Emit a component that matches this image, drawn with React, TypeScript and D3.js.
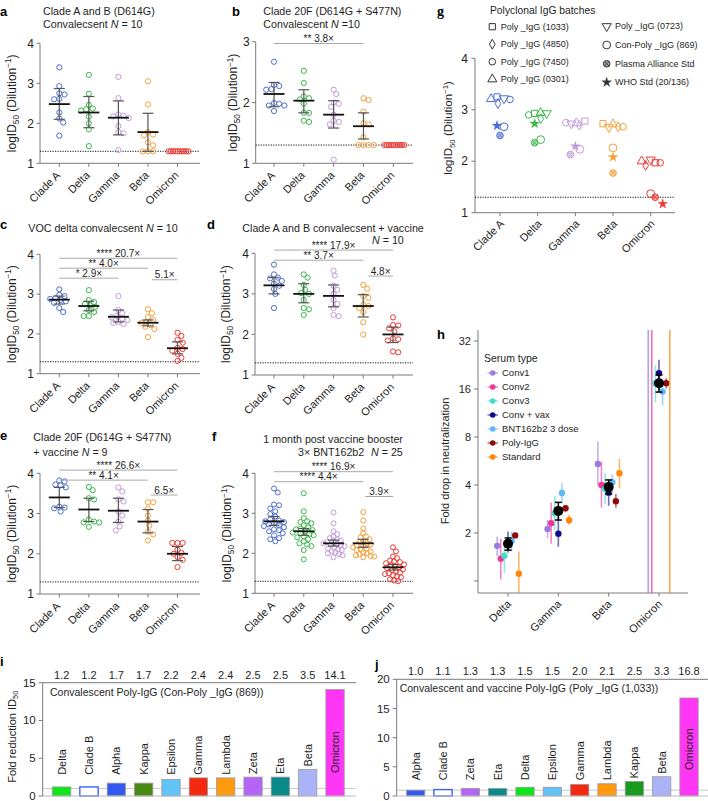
import React from 'react';
import * as d3 from 'd3';

const FONT = "'Liberation Sans', Arial, Helvetica, sans-serif";
const INK = '#1e1e1e';
const AXIS = '#7a7a7a';

// ---------- shared categories ----------
const VARIANTS = ['Clade A', 'Delta', 'Gamma', 'Beta', 'Omicron'];
const VARIANT_COLORS = ['#4d6ed0', '#3cb84b', '#c49bd9', '#f6a03a', '#ee3b33'];
const TICKS_1_4 = [1, 2, 3, 4];
const TICKS_1_3 = [1, 2, 3];
const LOD = 1.3;

// ---------- panel a ----------
const A_POINTS = [
  [3.40, 2.93, 2.75, 2.72, 2.61, 2.60, 2.27, 2.12, 2.02, 1.69],
  [3.21, 2.74, 2.46, 2.37, 2.35, 2.32, 2.17, 2.00, 1.85, 1.43],
  [3.16, 2.63, 2.22, 2.19, 2.17, 2.13, 1.93, 1.78, 1.75, 1.33],
  [3.05, 2.47, 1.78, 1.72, 1.70, 1.52, 1.45, 1.30, 1.30, 1.30],
  [1.3, 1.3, 1.3, 1.3, 1.3, 1.3, 1.3, 1.3, 1.3, 1.3],
];
const A_MEAN = [2.48, 2.27, 2.14, 1.78, null];
const A_LO = [2.10, 1.89, 1.71, 1.30, null];
const A_HI = [2.87, 2.67, 2.56, 2.25, null];

// ---------- panel b ----------
const B_POINTS = [
  [2.67, 2.29, 2.27, 2.22, 2.21, 1.99, 1.98, 1.95, 1.95, 1.86],
  [2.52, 2.32, 2.10, 2.07, 2.05, 1.98, 1.83, 1.83, 1.70, 1.68],
  [2.21, 2.14, 2.00, 1.98, 1.93, 1.80, 1.70, 1.68, 1.64, 1.06],
  [2.07, 2.04, 1.85, 1.66, 1.64, 1.43, 1.30, 1.30, 1.30, 1.30],
  [1.3, 1.3, 1.3, 1.3, 1.3, 1.3, 1.3, 1.3, 1.3, 1.3],
];
const B_MEAN = [2.14, 2.03, 1.80, 1.61, null];
const B_LO = [1.93, 1.83, 1.58, 1.40, null];
const B_HI = [2.33, 2.21, 2.03, 1.83, null];
const B_SIG_TEXT = ['** 3.8\u00d7'];

// ---------- panel c ----------
const C_POINTS = [
  [3.12, 2.98, 2.95, 2.90, 2.88, 2.85, 2.82, 2.78, 2.65, 2.55],
  [3.10, 2.85, 2.80, 2.75, 2.72, 2.68, 2.60, 2.55, 2.45, 2.45],
  [2.95, 2.60, 2.52, 2.45, 2.42, 2.38, 2.35, 2.30, 2.28, 2.25],
  [2.62, 2.52, 2.42, 2.35, 2.30, 2.28, 2.22, 2.18, 2.12, 1.92],
  [2.03, 1.95, 1.85, 1.78, 1.65, 1.62, 1.58, 1.50, 1.40, 1.32],
];
const C_MEAN = [2.86, 2.70, 2.43, 2.28, 1.64];
const C_LO = [2.75, 2.58, 2.30, 2.20, 1.50];
const C_HI = [2.95, 2.82, 2.60, 2.35, 1.80];
const C_SIG_TEXT = ['**** 20.7\u00d7', '** 4.0\u00d7', '* 2.9\u00d7', '5.1\u00d7'];

// ---------- panel d ----------
const D_POINTS = [
  [3.72, 3.48, 3.40, 3.38, 3.32, 3.25, 3.20, 3.12, 3.00, 2.65],
  [3.48, 3.40, 3.22, 3.10, 3.02, 3.00, 2.85, 2.65, 2.62, 2.48],
  [3.57, 3.45, 3.20, 3.10, 3.00, 2.85, 2.75, 2.65, 2.48, 2.45],
  [3.22, 3.13, 2.95, 2.90, 2.73, 2.70, 2.65, 2.55, 2.30, 2.00],
  [2.42, 2.23, 2.22, 2.15, 2.08, 1.90, 1.88, 1.85, 1.58, 1.56],
];
const D_MEAN = [3.21, 3.00, 2.95, 2.70, 2.00];
const D_LO = [3.00, 2.78, 2.68, 2.43, 1.80];
const D_HI = [3.40, 3.25, 3.22, 2.98, 2.18];
const D_SIG_TEXT = ['**** 17.9\u00d7', '** 3.7\u00d7', '4.8\u00d7'];

// ---------- panel e ----------
const E_POINTS = [
  [3.82, 3.80, 3.72, 3.70, 3.65, 3.17, 3.15, 3.13, 3.05],
  [3.66, 3.58, 3.38, 3.35, 2.85, 2.80, 2.78, 2.78, 2.67],
  [3.65, 3.55, 3.35, 3.30, 3.05, 2.95, 2.80, 2.68, 2.58],
  [3.28, 3.28, 3.12, 2.95, 2.82, 2.70, 2.55, 2.48, 2.33],
  [2.27, 2.27, 2.27, 2.10, 2.02, 2.00, 1.92, 1.85, 1.67],
];
const E_MEAN = [3.40, 3.10, 3.07, 2.80, 2.00];
const E_LO = [3.15, 2.80, 2.78, 2.52, 1.83];
const E_HI = [3.65, 3.38, 3.38, 3.10, 2.18];
const E_SIG_TEXT = ['**** 26.6\u00d7', '** 4.1\u00d7', '6.5\u00d7'];

// ---------- panel f ----------
const F_POINTS = [
  [3.62, 3.52, 3.22, 3.20, 3.12, 3.05, 2.98, 2.92, 2.85, 2.82, 2.80, 2.78, 2.75, 2.72, 2.70, 2.68, 2.65, 2.60, 2.58, 2.55, 2.50, 2.45, 2.38, 2.35, 2.30],
  [3.50, 3.05, 2.88, 2.80, 2.78, 2.75, 2.70, 2.65, 2.62, 2.60, 2.58, 2.55, 2.52, 2.50, 2.48, 2.45, 2.42, 2.40, 2.35, 2.30, 2.25, 2.22, 2.18, 2.08, 1.85],
  [3.02, 2.75, 2.55, 2.48, 2.42, 2.38, 2.35, 2.32, 2.30, 2.28, 2.25, 2.23, 2.22, 2.20, 2.18, 2.15, 2.12, 2.10, 2.08, 2.05, 2.02, 2.00, 1.98, 1.95, 1.90],
  [3.03, 2.82, 2.62, 2.50, 2.42, 2.40, 2.35, 2.30, 2.28, 2.25, 2.22, 2.20, 2.18, 2.15, 2.12, 2.10, 2.08, 2.05, 2.02, 2.00, 1.98, 1.95, 1.93, 1.92, 1.90],
  [2.15, 2.05, 1.92, 1.88, 1.82, 1.80, 1.78, 1.75, 1.72, 1.70, 1.68, 1.65, 1.63, 1.60, 1.58, 1.55, 1.52, 1.50, 1.48, 1.45, 1.42, 1.40, 1.35, 1.32, 1.30],
];
const F_MEAN = [2.80, 2.55, 2.25, 2.25, 1.65];
const F_LO = [2.70, 2.45, 2.18, 2.15, 1.58];
const F_HI = [2.92, 2.62, 2.33, 2.35, 1.72];
const F_SIG_TEXT = ['**** 16.9\u00d7', '**** 4.4\u00d7', '3.9\u00d7'];

// ---------- panel g ----------
const G_BATCHES = ['Poly _IgG (1033)', 'Poly _IgG (4850)', 'Poly _IgG (7450)', 'Poly _IgG (0301)', 'Poly _IgG (0723)', 'Con-Poly _IgG (869)', 'Plasma Alliance Std', 'WHO Std (20/136)'];
const G_SYMBOLS = ['square', 'diamond', 'circle', 'triangle', 'triangleDown', 'bigCircle', 'plasma', 'star'];
const G_1033 = [3.25, 2.93, 2.78, 2.73, 1.97];
const G_4850 = [3.12, 2.83, 2.70, 2.67, 1.92];
const G_7450 = [3.20, 2.90, 2.75, 2.67, 1.97];
const G_0301 = [3.21, 2.94, 2.74, 2.72, 2.00];
const G_0723 = [3.22, 2.93, 2.73, 2.66, 2.03];
const G_869 = [2.67, 2.42, 2.23, 2.26, 1.37];
const G_PLASMA = [2.50, 2.36, 2.13, 1.77, 1.30];
const G_WHO = [2.69, 2.73, 2.29, 2.08, 1.17];
const G_VALUES = [G_1033, G_4850, G_7450, G_0301, G_0723, G_869, G_PLASMA, G_WHO];
// horizontal dodge of each marker (px), layout only
const G_DODGE = [
  [-3, -3, 9.5, -10, 4.5],
  [-2, 3, 4, 5, -5],
  [10, -9, -9.5, 10, 9.5],
  [-9, 3, 1, 0, -9],
  [4, 9, -4, -4, 0],
  [4, 3, 4.5, 0, 0],
  [0, -3, -5, 0, 4.5],
  [-3, -3, 0, 0, 12],
];

// ---------- panel h ----------
const H_VARIANTS = ['Delta', 'Gamma', 'Beta', 'Omicron'];
const H_SERUM = ['Conv1', 'Conv2', 'Conv3', 'Conv + vax', 'BNT162b2 3 dose', 'Poly-IgG', 'Standard'];
const H_COLORS = ['#9b7be0', '#f2349c', '#45dcc6', '#0a0a8a', '#5db8f8', '#8e0c0c', '#ff8408'];
const H_VALUE = [
  [1.66, 2.12, 5.42, null],
  [1.38, 2.30, 4.00, null],
  [1.44, 2.66, 3.78, 17.4],
  [1.75, 1.98, 3.58, 20.1],
  [1.78, 3.56, 4.16, 15.4],
  [1.93, 2.86, 3.16, 17.4],
  [1.11, 2.40, 4.74, null],
];
const H_LO = [
  [1.43, 1.86, 3.96, null],
  [1.02, 1.71, 2.88, null],
  [1.12, 2.07, 3.04, 13.2],
  [1.50, 1.64, 2.96, 15.8],
  [1.53, 3.08, 3.56, 12.6],
  [1.86, 2.70, 2.88, 16.1],
  [0.84, 2.25, 3.81, null],
];
const H_HI = [
  [1.90, 2.41, 7.50, null],
  [1.84, 3.10, 5.60, null],
  [1.63, 3.41, 4.73, 22.6],
  [2.04, 2.51, 4.20, 24.4],
  [2.04, 4.10, 4.67, 18.7],
  [2.00, 3.00, 3.51, 18.7],
  [1.53, 2.60, 5.83, null],
];
const H_MEAN = [1.71, 2.75, 3.89, 17.4];
const H_MEAN_LO = [1.56, 2.41, 3.51, 15.3];
const H_MEAN_HI = [1.86, 3.11, 4.30, 19.6];
const H_TICKS = [1, 2, 4, 8, 16, 32];

// ---------- panels i, j ----------
const I_CATS = ['Delta', 'Clade B', 'Alpha', 'Kappa', 'Epsilon', 'Gamma', 'Lambda', 'Zeta', 'Eta', 'Beta', 'Omicron'];
const I_VALUES = [1.2, 1.2, 1.7, 1.7, 2.2, 2.4, 2.4, 2.5, 2.5, 3.5, 14.1];
const J_CATS = ['Alpha', 'Clade B', 'Zeta', 'Eta', 'Delta', 'Epsilon', 'Gamma', 'Lambda', 'Kappa', 'Beta', 'Omicron'];
const J_VALUES = [1.0, 1.1, 1.3, 1.3, 1.5, 1.5, 2.0, 2.1, 2.5, 3.3, 16.8];
const BAR_COLORS: Record<string, string> = {
  Delta: '#0ee619', 'Clade B': '#ffffff', Alpha: '#3359f0', Kappa: '#4a8a14', Epsilon: '#62c3f8',
  Gamma: '#f42a10', Lambda: '#ff990f', Zeta: '#b565f5', Eta: '#0b8a8a', Beta: '#aab3f8', Omicron: '#ff36f5',
};
const J_KAPPA_COLOR = '#179a1e';
const I_TICKS = [0, 5, 10, 15];
const J_TICKS = [0, 5, 10, 15, 20];

// ---------- helpers ----------
function swarm(vals: number[], yPos: (v: number) => number, r: number, maxW: number): number[] {
  const n = vals.length;
  const order = d3.range(n).sort((a, b) => vals[b] - vals[a]);
  const off = new Array(n).fill(0);
  const placed: { x: number; y: number }[] = [];
  const step = r * 0.5;
  const minD = 2 * r * 0.95;
  for (const i of order) {
    const yi = yPos(vals[i]);
    let chosen = 0;
    for (let k = 0; k < 400; k++) {
      const cand = k === 0 ? 0 : (k % 2 === 1 ? 1 : -1) * Math.ceil(k / 2) * step;
      if (placed.every((p) => Math.hypot(p.x - cand, p.y - yi) >= minD)) {
        chosen = cand;
        break;
      }
    }
    off[i] = chosen;
    placed.push({ x: chosen, y: yi });
  }
  const m = d3.max(off, (o) => Math.abs(o)) || 0;
  return m > maxW ? off.map((o) => (o * maxW) / m) : off;
}

function LogIdLabel({ x, y, size = 12 }: { x: number; y: number; size?: number }) {
  const s = size * 0.68;
  return (
    <text transform={`translate(${x},${y}) rotate(-90)`} textAnchor="middle" dy="0.35em" fontSize={size} fill={INK}>
      logID<tspan fontSize={s} dy={size * 0.25}>50</tspan>
      <tspan dy={-size * 0.25}> (Dilution</tspan>
      <tspan fontSize={s} dy={-size * 0.38}>{'\u22121'}</tspan>
      <tspan dy={size * 0.38}>)</tspan>
    </text>
  );
}

type Sig = { from: string; to: string; level: number; text: string; inset?: number };
type TitleLine = { x: number; y: number; parts: [string, boolean][] };

interface ScatterCfg {
  letter: string; letterX: number; letterY: number;
  points: number[][]; mean: (number | null)[]; lo: (number | null)[]; hi: (number | null)[];
  sig: Sig[]; axisX: number; xFirst: number; xLast: number; xEnd: number;
  yTop: number; yBot: number; yMax: number; ticks: number[];
  title: TitleLine[]; ylabX: number; r: number;
}

function ScatterPanel({ c }: { c: ScatterCfg }) {
  const y = d3.scaleLinear().domain([1, c.yMax]).range([c.yBot, c.yTop]);
  const x = d3.scalePoint<string>().domain(VARIANTS).range([c.xFirst, c.xLast]);
  const yMid = (c.yTop + c.yBot) / 2;
  return (
    <g>
      <text x={c.letterX} y={c.letterY} fontSize={13} fontWeight="bold" fill="#000">{c.letter}</text>
      {c.title.map((t, i) => (
        <text key={i} x={t.x} y={t.y} fontSize={10.7} fill={INK}>
          {t.parts.map(([s, it], j) => (
            <tspan key={j} fontStyle={it ? 'italic' : 'normal'}>{s}</tspan>
          ))}
        </text>
      ))}
      <LogIdLabel x={c.ylabX} y={yMid} />
      <line x1={c.axisX} x2={c.axisX} y1={c.yTop} y2={c.yBot} stroke={AXIS} />
      {c.ticks.map((t) => (
        <g key={t}>
          <line x1={c.axisX - 3.5} x2={c.axisX} y1={y(t)} y2={y(t)} stroke={AXIS} />
          <text x={c.axisX - 6} y={y(t)} dy="0.35em" textAnchor="end" fontSize={12} fill={INK}>{t}</text>
        </g>
      ))}
      <line x1={c.axisX} x2={c.xEnd} y1={c.yBot} y2={c.yBot} stroke={AXIS} />
      {VARIANTS.map((v) => (
        <g key={v}>
          <line x1={x(v)} x2={x(v)} y1={c.yBot} y2={c.yBot + 3.5} stroke={AXIS} />
          <text transform={`translate(${x(v)! - 1},${c.yBot + 10}) rotate(-45)`} textAnchor="end" dy="0.35em" fontSize={11} fill={INK}>{v}</text>
        </g>
      ))}
      <line x1={c.axisX} x2={c.xEnd} y1={y(LOD)} y2={y(LOD)} stroke="#111" strokeDasharray="1.2,1.3" />
      {c.points.map((vals, gi) => {
        const offs = swarm(vals, y, c.r, 11);
        return (
          <g key={gi}>
            {vals.map((v, k) => (
              <circle key={k} cx={x(VARIANTS[gi])! + offs[k]} cy={y(v)} r={c.r} fill="none" stroke={VARIANT_COLORS[gi]} strokeWidth={1} />
            ))}
          </g>
        );
      })}
      {c.mean.map((m, gi) => {
        if (m == null) return null;
        const cx = x(VARIANTS[gi])!;
        return (
          <g key={gi}>
            <line x1={cx} x2={cx} y1={y(c.lo[gi]!)} y2={y(c.hi[gi]!)} stroke="#555" strokeWidth={1.2} />
            <line x1={cx - 5.5} x2={cx + 5.5} y1={y(c.lo[gi]!)} y2={y(c.lo[gi]!)} stroke="#555" strokeWidth={1.2} />
            <line x1={cx - 5.5} x2={cx + 5.5} y1={y(c.hi[gi]!)} y2={y(c.hi[gi]!)} stroke="#555" strokeWidth={1.2} />
            <line x1={cx - 10.5} x2={cx + 10.5} y1={y(m)} y2={y(m)} stroke="#111" strokeWidth={1.8} />
          </g>
        );
      })}
      {c.sig.map((s, i) => {
        const x1 = x(s.from)! + (s.inset || 0);
        const x2 = x(s.to)!;
        const ly = y(s.level);
        return (
          <g key={i}>
            <line x1={x1} x2={x2} y1={ly} y2={ly} stroke="#a8a8a8" strokeWidth={1} />
            <text x={(x1 + x2) / 2} y={ly - 1.5} textAnchor="middle" fontSize={10} fill={INK}>{s.text}</text>
          </g>
        );
      })}
    </g>
  );
}

const SCATTER: ScatterCfg[] = [
  {
    letter: 'a', letterX: 0, letterY: 16, points: A_POINTS, mean: A_MEAN, lo: A_LO, hi: A_HI, sig: [],
    axisX: 40, xFirst: 59.3, xLast: 177.5, xEnd: 200, yTop: 43.3, yBot: 163.3, yMax: 4, ticks: TICKS_1_4,
    title: [
      { x: 43, y: 15.4, parts: [['Clade A and B (D614G)', false]] },
      { x: 43, y: 27.8, parts: [['Convalecsent ', false], ['N', true], [' = 10', false]] },
    ],
    ylabX: 11.5, r: 2.6,
  },
  {
    letter: 'b', letterX: 232, letterY: 16, points: B_POINTS, mean: B_MEAN, lo: B_LO, hi: B_HI,
    sig: [{ from: 'Clade A', to: 'Beta', level: 2.97, text: B_SIG_TEXT[0] }],
    axisX: 255.7, xFirst: 274, xLast: 393.3, xEnd: 413, yTop: 41.7, yBot: 163.3, yMax: 3, ticks: TICKS_1_3,
    title: [
      { x: 263.3, y: 15.4, parts: [['Clade 20F (D614G + S477N)', false]] },
      { x: 263.3, y: 27.8, parts: [['Convalescent ', false], ['N', true], [' =10', false]] },
    ],
    ylabX: 233, r: 2.6,
  },
  {
    letter: 'c', letterX: 0, letterY: 229, points: C_POINTS, mean: C_MEAN, lo: C_LO, hi: C_HI,
    sig: [
      { from: 'Clade A', to: 'Omicron', level: 3.9, text: C_SIG_TEXT[0] },
      { from: 'Clade A', to: 'Beta', level: 3.65, text: C_SIG_TEXT[1] },
      { from: 'Clade A', to: 'Gamma', level: 3.4, text: C_SIG_TEXT[2] },
      { from: 'Beta', to: 'Omicron', level: 3.36, text: C_SIG_TEXT[3], inset: 4 },
    ],
    axisX: 40, xFirst: 59.3, xLast: 177.5, xEnd: 200, yTop: 254.3, yBot: 373.7, yMax: 4, ticks: TICKS_1_4,
    title: [{ x: 28.3, y: 231.8, parts: [['VOC delta convalecsent ', false], ['N', true], [' = 10', false]] }],
    ylabX: 11.5, r: 2.6,
  },
  {
    letter: 'd', letterX: 207, letterY: 229, points: D_POINTS, mean: D_MEAN, lo: D_LO, hi: D_HI,
    sig: [
      { from: 'Clade A', to: 'Omicron', level: 4.08, text: D_SIG_TEXT[0] },
      { from: 'Clade A', to: 'Beta', level: 3.83, text: D_SIG_TEXT[1] },
      { from: 'Beta', to: 'Omicron', level: 3.44, text: D_SIG_TEXT[2], inset: 5 },
    ],
    axisX: 255, xFirst: 274, xLast: 393, xEnd: 413, yTop: 253.3, yBot: 375, yMax: 4, ticks: TICKS_1_4,
    title: [
      { x: 242.3, y: 232, parts: [['Clade A and B convalecsent + vaccine', false]] },
      { x: 372, y: 243.5, parts: [['N', true], [' = 10', false]] },
    ],
    ylabX: 226, r: 2.6,
  },
  {
    letter: 'e', letterX: 0, letterY: 440, points: E_POINTS, mean: E_MEAN, lo: E_LO, hi: E_HI,
    sig: [
      { from: 'Clade A', to: 'Omicron', level: 4.08, text: E_SIG_TEXT[0] },
      { from: 'Clade A', to: 'Beta', level: 3.83, text: E_SIG_TEXT[1] },
      { from: 'Beta', to: 'Omicron', level: 3.46, text: E_SIG_TEXT[2], inset: 3 },
    ],
    axisX: 40, xFirst: 59.3, xLast: 177.5, xEnd: 200, yTop: 473.3, yBot: 594, yMax: 4, ticks: TICKS_1_4,
    title: [
      { x: 33.3, y: 440.5, parts: [['Clade 20F (D614G + S477N)', false]] },
      { x: 33.3, y: 455.5, parts: [['+ vaccine ', false], ['N', true], [' = 9', false]] },
    ],
    ylabX: 11.5, r: 2.6,
  },
  {
    letter: 'f', letterX: 212, letterY: 441, points: F_POINTS, mean: F_MEAN, lo: F_LO, hi: F_HI,
    sig: [
      { from: 'Clade A', to: 'Omicron', level: 4.04, text: F_SIG_TEXT[0] },
      { from: 'Clade A', to: 'Beta', level: 3.79, text: F_SIG_TEXT[1] },
      { from: 'Beta', to: 'Omicron', level: 3.42, text: F_SIG_TEXT[2], inset: 2 },
    ],
    axisX: 255, xFirst: 274, xLast: 393, xEnd: 413, yTop: 473.3, yBot: 593.3, yMax: 4, ticks: TICKS_1_4,
    title: [
      { x: 263.3, y: 443, parts: [['1 month post vaccine booster', false]] },
      { x: 298, y: 456, parts: [['3\u00d7 BNT162b2', false]] },
      { x: 371, y: 456, parts: [['N', true], [' = 25', false]] },
    ],
    ylabX: 227, r: 2.5,
  },
];

// ---------- symbols for g ----------
function GSymbol({ kind, x, y, color }: { kind: string; x: number; y: number; color: string }) {
  const sw = 1;
  if (kind === 'circle') return <circle cx={x} cy={y} r={3.3} fill="none" stroke={color} strokeWidth={sw} />;
  if (kind === 'bigCircle') return <circle cx={x} cy={y} r={3.9} fill="none" stroke={color} strokeWidth={sw} />;
  if (kind === 'plasma') {
    const r = 3.3, k = r * 0.7;
    return (
      <g>
        <circle cx={x} cy={y} r={r} fill={color} fillOpacity={0.45} stroke={color} strokeWidth={sw} />
        <line x1={x - k} x2={x + k} y1={y - k} y2={y + k} stroke={color} strokeWidth={0.8} />
        <line x1={x - k} x2={x + k} y1={y + k} y2={y - k} stroke={color} strokeWidth={0.8} />
      </g>
    );
  }
  const type = kind === 'square' ? d3.symbolSquare : kind === 'diamond' ? d3.symbolDiamond
    : kind === 'star' ? d3.symbolStar : d3.symbolTriangle;
  const size = kind === 'square' ? 38 : kind === 'diamond' ? 28 : kind === 'star' ? 30 : 36;
  const path = d3.symbol().type(type).size(size)()!;
  const rot = kind === 'triangleDown' ? 180 : 0;
  const filled = kind === 'star';
  return (
    <path d={path} transform={`translate(${x},${y}) rotate(${rot})`} fill={filled ? color : 'none'} stroke={color} strokeWidth={filled ? 0.3 : sw} />
  );
}

function PanelG() {
  const axisX = 475, yBot = 212.7, yTop = 58.3, xEnd = 675;
  const y = d3.scaleLinear().domain([1, 4]).range([yBot, yTop]);
  const x = d3.scalePoint<string>().domain(VARIANTS).range([500, 650.7]);
  const legendCol1 = { sx: 492.3, tx: 500.7, rows: [26.7, 44.2, 61.7, 79.2] };
  const legendCol2 = { sx: 606.7, tx: 615, rows: [26.3, 45, 63.8, 82.3] };
  return (
    <g>
      <text x={437} y={16} fontSize={14} fontWeight="bold" fontFamily="'Liberation Serif', 'DejaVu Serif', serif" fill="#000">g</text>
      <text x={490} y={13.5} fontSize={10.3} fill={INK}>Polyclonal IgG batches</text>
      {G_BATCHES.map((b, i) => {
        const col = i < 4 ? legendCol1 : legendCol2;
        const yy = col.rows[i % 4];
        return (
          <g key={b}>
            <GSymbol kind={G_SYMBOLS[i]} x={col.sx} y={yy} color="#333" />
            <text x={col.tx} y={yy} dy="0.35em" fontSize={9} fill={INK}>{b}</text>
          </g>
        );
      })}
      <LogIdLabel x={448} y={128} size={11.5} />
      <line x1={axisX} x2={axisX} y1={yTop} y2={yBot} stroke={AXIS} />
      {TICKS_1_4.map((t) => (
        <g key={t}>
          <line x1={axisX - 3.5} x2={axisX} y1={y(t)} y2={y(t)} stroke={AXIS} />
          <text x={axisX - 7} y={y(t)} dy="0.35em" textAnchor="end" fontSize={12} fill={INK}>{t}</text>
        </g>
      ))}
      <line x1={axisX} x2={xEnd} y1={yBot} y2={yBot} stroke={AXIS} />
      {VARIANTS.map((v) => (
        <g key={v}>
          <line x1={x(v)} x2={x(v)} y1={yBot} y2={yBot + 3.5} stroke={AXIS} />
          <text transform={`translate(${x(v)! + 2},${yBot + 9}) rotate(-45)`} textAnchor="end" dy="0.35em" fontSize={11} fill={INK}>{v}</text>
        </g>
      ))}
      <line x1={axisX} x2={xEnd} y1={y(LOD)} y2={y(LOD)} stroke="#111" strokeDasharray="1.2,1.3" />
      {G_VALUES.map((vals, bi) => (
        <g key={bi}>
          {vals.map((v, vi) => (
            <GSymbol key={vi} kind={G_SYMBOLS[bi]} x={x(VARIANTS[vi])! + G_DODGE[bi][vi]} y={y(v)} color={VARIANT_COLORS[vi]} />
          ))}
        </g>
      ))}
    </g>
  );
}

function PanelH() {
  const axisX = 478, yTop = 330, yBot = 593, xEnd = 688;
  const y = d3.scaleLog().base(2).domain([0.84, 37.5]).range([yBot, yTop]);
  const x = d3.scalePoint<string>().domain(H_VARIANTS).range([508, 659]);
  const step = 3.6;
  const clampY = (v: number) => Math.max(yTop, Math.min(yBot, y(Math.max(v, 0.01))));
  const legendRows = [373, 387, 401, 415, 429, 443, 457];
  return (
    <g>
      <text x={437} y={339} fontSize={13} fontWeight="bold" fill="#000">h</text>
      <text transform={`translate(445,461) rotate(-90)`} textAnchor="middle" dy="0.35em" fontSize={11} fill={INK}>Fold drop in neutralization</text>
      <line x1={axisX} x2={axisX} y1={yTop} y2={yBot} stroke={AXIS} />
      {H_TICKS.map((t) => (
        <g key={t}>
          <line x1={axisX - 4} x2={axisX} y1={y(t)} y2={y(t)} stroke={AXIS} />
          {t > 1 && <text x={axisX - 7} y={y(t)} dy="0.35em" textAnchor="end" fontSize={11} fill={INK}>{t}</text>}
        </g>
      ))}
      <line x1={axisX} x2={xEnd} y1={yBot} y2={yBot} stroke={AXIS} />
      {H_VARIANTS.map((v) => (
        <g key={v}>
          <line x1={x(v)} x2={x(v)} y1={yBot} y2={yBot + 3.5} stroke={AXIS} />
          <text transform={`translate(${x(v)! + 1},${yBot + 9}) rotate(-45)`} textAnchor="end" dy="0.35em" fontSize={11} fill={INK}>{v}</text>
        </g>
      ))}
      {H_SERUM.map((s, si) => (
        <g key={s}>
          {H_VARIANTS.map((v, vi) => {
            const cx = x(v)! + (si - 3) * step;
            const val = H_VALUE[si][vi];
            if (val == null) {
              return <line key={vi} x1={cx} x2={cx} y1={yTop} y2={yBot} stroke={H_COLORS[si]} strokeOpacity={0.75} strokeWidth={1.5} />;
            }
            return (
              <g key={vi}>
                <line x1={cx} x2={cx} y1={clampY(H_LO[si][vi]!)} y2={clampY(H_HI[si][vi]!)} stroke={H_COLORS[si]} strokeOpacity={0.6} strokeWidth={1.6} />
                <circle cx={cx} cy={y(val)} r={3.2} fill={H_COLORS[si]} />
              </g>
            );
          })}
        </g>
      ))}
      {H_MEAN.map((m, vi) => {
        const cx = x(H_VARIANTS[vi])!;
        return (
          <g key={vi}>
            <line x1={cx} x2={cx} y1={y(H_MEAN_LO[vi])} y2={y(H_MEAN_HI[vi])} stroke="#000" strokeWidth={1.5} />
            <line x1={cx - 3.5} x2={cx + 3.5} y1={y(H_MEAN_LO[vi])} y2={y(H_MEAN_LO[vi])} stroke="#000" strokeWidth={1.5} />
            <line x1={cx - 3.5} x2={cx + 3.5} y1={y(H_MEAN_HI[vi])} y2={y(H_MEAN_HI[vi])} stroke="#000" strokeWidth={1.5} />
            <circle cx={cx} cy={y(m)} r={5} fill="#000" />
          </g>
        );
      })}
      <text x={484} y={362} fontSize={10.5} fill={INK}>Serum type</text>
      {H_SERUM.map((s, si) => (
        <g key={s}>
          <line x1={487.5} x2={498} y1={legendRows[si]} y2={legendRows[si]} stroke={H_COLORS[si]} strokeOpacity={0.6} strokeWidth={1.5} />
          <circle cx={492.7} cy={legendRows[si]} r={2.8} fill={H_COLORS[si]} />
          <text x={502} y={legendRows[si]} dy="0.35em" fontSize={9.5} fill={INK}>{s}</text>
        </g>
      ))}
    </g>
  );
}

interface BarCfg {
  letter: string; letterX: number; letterY: number; cats: string[]; values: number[];
  axisX: number; r0: number; r1: number; frameEnd: number; yTop: number; yBot: number; yMax: number;
  ticks: number[]; title: string; titleX: number; titleY: number; valY: number;
  labelBase: number; insideY: number; ylab?: boolean; kappaColor?: string;
}

function BarPanel({ c }: { c: BarCfg }) {
  const y = d3.scaleLinear().domain([0, c.yMax]).range([c.yBot, c.yTop]);
  const x = d3.scaleBand<string>().domain(c.cats).range([c.r0, c.r1]).paddingInner(0.33).paddingOuter(0.165);
  const fmt = d3.format('.1f');
  return (
    <g>
      <text x={c.letterX} y={c.letterY} fontSize={13} fontWeight="bold" fill="#000">{c.letter}</text>
      {c.ylab && (
        <text transform={`translate(11.7,736.7) rotate(-90)`} textAnchor="middle" dy="0.35em" fontSize={11} fill={INK}>
          Fold reduction ID<tspan fontSize={7.5} dy={2.8}>50</tspan>
        </text>
      )}
      <line x1={c.axisX} x2={c.frameEnd} y1={y(1)} y2={y(1)} stroke="#c8c8c8" strokeWidth={1} />
      {c.cats.map((cat, i) => {
        const v = c.values[i];
        const bx = x(cat)!;
        const bw = x.bandwidth();
        const cx = bx + bw / 2;
        const isOpen = cat === 'Clade B';
        let fill = BAR_COLORS[cat];
        if (cat === 'Kappa' && c.kappaColor) fill = c.kappaColor;
        const inside = v > 10;
        const startY = inside ? c.insideY : Math.min(y(c.labelBase), y(v) - 3);
        return (
          <g key={cat}>
            <rect x={bx} y={y(v)} width={bw} height={c.yBot - y(v)} fill={fill}
              stroke={isOpen ? '#3f63f2' : '#9a9a9a'} strokeWidth={isOpen ? 1.4 : 0.8} />
            <text transform={`translate(${cx},${startY}) rotate(-90)`} dy="0.35em" fontSize={11} fill={INK}>{cat}</text>
            <text x={cx} y={c.valY} textAnchor="middle" fontSize={11} fill={INK}>{fmt(v)}</text>
          </g>
        );
      })}
      <line x1={c.axisX} x2={c.axisX} y1={c.yTop} y2={c.yBot} stroke={AXIS} />
      <line x1={c.axisX} x2={c.frameEnd} y1={c.yTop} y2={c.yTop} stroke={AXIS} />
      <line x1={c.axisX} x2={c.frameEnd} y1={c.yBot} y2={c.yBot} stroke="#bdbdbd" />
      {c.ticks.map((t) => (
        <g key={t}>
          <line x1={c.axisX - 4} x2={c.axisX} y1={y(t)} y2={y(t)} stroke={AXIS} />
          <text x={c.axisX - 7} y={y(t)} dy="0.35em" textAnchor="end" fontSize={11.5} fill={INK}>{t}</text>
        </g>
      ))}
      <text x={c.titleX} y={c.titleY} fontSize={10.5} fill={INK}>{c.title}</text>
    </g>
  );
}

const BAR_PANELS: BarCfg[] = [
  {
    letter: 'i', letterX: 0, letterY: 666, cats: I_CATS, values: I_VALUES, axisX: 42.7, r0: 48, r1: 348.7, frameEnd: 356,
    yTop: 682.7, yBot: 796, yMax: 15, ticks: I_TICKS, title: 'Convalescent Poly-IgG (Con-Poly _IgG (869))',
    titleX: 50, titleY: 695.5, valY: 679, labelBase: 2.8, insideY: 773, ylab: true,
  },
  {
    letter: 'j', letterX: 375, letterY: 669, cats: J_CATS, values: J_VALUES, axisX: 396.7, r0: 402, r1: 702.7, frameEnd: 708,
    yTop: 679.3, yBot: 796, yMax: 20, ticks: J_TICKS, title: 'Convalescent and vaccine Poly-IgG (Poly _IgG (1,033))',
    titleX: 399.7, titleY: 691.5, valY: 674.7, labelBase: 2.7, insideY: 770, kappaColor: J_KAPPA_COLOR,
  },
];

export default function App() {
  return (
    <svg width={708} height={801} viewBox="0 0 708 801"
      style={{ position: 'absolute', left: 0, top: 0, background: '#fff', fontFamily: FONT }}>
      <rect x={0} y={0} width={708} height={801} fill="#fff" />
      {SCATTER.map((c) => <ScatterPanel key={c.letter} c={c} />)}
      <PanelG />
      <PanelH />
      {BAR_PANELS.map((c) => <BarPanel key={c.letter} c={c} />)}
    </svg>
  );
}
